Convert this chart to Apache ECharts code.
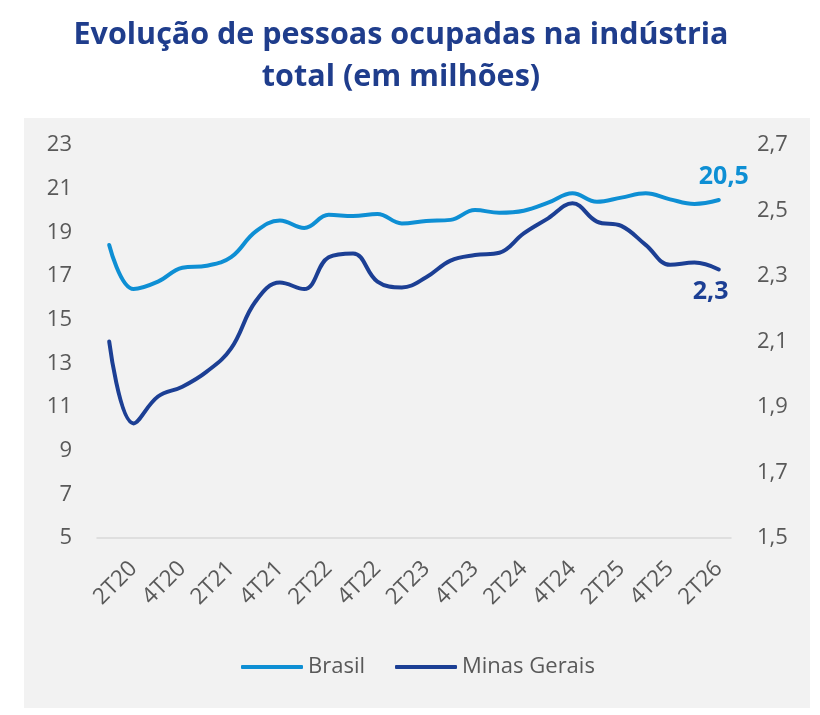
<!DOCTYPE html>
<html>
  <head>
    <meta charset="utf-8">
    <title>Evolução de pessoas ocupadas na indústria total</title>
    <script src="https://cdn.jsdelivr.net/npm/echarts@6/dist/echarts.min.js"></script>
    <style>
      html, body { margin: 0; padding: 0; background: #fff; }
      #chart1 { width: 820px; height: 715px; }
    </style>
  </head>
  <body>
    <div id="chart1"></div>
  </body>
  <script>
    // trimestres (eixo x)
    var trimestres = ['1T20','2T20','3T20','4T20','1T21','2T21','3T21','4T21','1T22','2T22','3T22','4T22',
                      '1T23','2T23','3T23','4T23','1T24','2T24','3T24','4T24','1T25','2T25','3T25','4T25',
                      '1T26','2T26'];

    // Brasil (eixo esquerdo, milhões)
    var brasil = [18.42, 16.40, 16.74, 17.38, 17.47, 17.86, 19.03, 19.54, 19.20, 19.80, 19.75, 19.84,
                  19.41, 19.52, 19.57, 20.02, 19.90, 19.99, 20.36, 20.79, 20.40, 20.59, 20.79, 20.51,
                  20.30, 20.48];

    // Minas Gerais (eixo direito, milhões)
    var minas = [2.100, 1.850, 1.932, 1.962, 2.008, 2.079, 2.222, 2.280, 2.260, 2.357, 2.369, 2.283,
                 2.265, 2.296, 2.347, 2.364, 2.371, 2.430, 2.476, 2.522, 2.466, 2.453, 2.395, 2.334,
                 2.341, 2.320];

    var corBrasil = '#0E8FD4';
    var corMinas = '#1C3F94';
    var cinza = '#595959';

    function virgula(v) {
      return v.toFixed(1).replace('.', ',');
    }

    var myChart = echarts.init(document.getElementById('chart1'));
    var option = {
      animation: false,
      backgroundColor: '#ffffff',
      textStyle: { fontFamily: 'Open Sans' },
      graphic: [
        {
          type: 'rect',
          z: -10,
          silent: true,
          shape: { x: 24, y: 118, width: 786, height: 590 },
          style: { fill: '#F2F2F2' }
        }
      ],
      title: {
        text: 'Evolução de pessoas ocupadas na indústria\ntotal (em milhões)',
        left: 396,
        top: 9,
        textAlign: 'center',
        textStyle: {
          fontFamily: 'Open Sans',
          fontSize: 30.5,
          fontWeight: 'bold',
          color: '#1F3D8C',
          lineHeight: 42
        }
      },
      legend: {
        left: 236,
        top: 651,
        icon: 'roundRect',
        itemWidth: 62,
        itemHeight: 4,
        itemGap: 30,
        data: ['Brasil', 'Minas Gerais'],
        textStyle: { fontFamily: 'Open Sans', fontSize: 22, color: cinza }
      },
      grid: {
        left: 97,
        right: 89,
        top: 145,
        bottom: 177
      },
      xAxis: {
        type: 'category',
        boundaryGap: true,
        data: trimestres,
        axisLine: { lineStyle: { color: '#D9D9D9', width: 1.5 } },
        axisTick: { show: false },
        axisLabel: {
          interval: function (index) { return index % 2 === 1; },
          rotate: 45,
          margin: 27,
          fontFamily: 'Open Sans',
          fontSize: 22.5,
          color: cinza
        }
      },
      yAxis: [
        {
          type: 'value',
          position: 'left',
          min: 5,
          max: 23,
          interval: 2,
          axisLine: { show: false },
          axisTick: { show: false },
          splitLine: { show: false },
          axisLabel: { margin: 25, fontFamily: 'Open Sans', fontSize: 22, color: cinza }
        },
        {
          type: 'value',
          position: 'right',
          min: 1.5,
          max: 2.7,
          interval: 0.2,
          axisLine: { show: false },
          axisTick: { show: false },
          splitLine: { show: false },
          axisLabel: {
            margin: 26,
            fontFamily: 'Open Sans',
            fontSize: 22,
            color: cinza,
            formatter: function (v) { return virgula(v); }
          }
        }
      ],
      series: [
        {
          name: 'Brasil',
          type: 'line',
          yAxisIndex: 0,
          data: brasil,
          smooth: 0.4,
          showSymbol: false,
          color: corBrasil,
          lineStyle: { width: 4, color: corBrasil, cap: 'round' },
          endLabel: {
            show: true,
            offset: [-28, -23],
            fontFamily: 'Open Sans',
            fontSize: 25,
            fontWeight: 'bold',
            color: corBrasil,
            formatter: function (p) { return virgula(p.value); }
          }
        },
        {
          name: 'Minas Gerais',
          type: 'line',
          yAxisIndex: 1,
          data: minas,
          smooth: 0.4,
          showSymbol: false,
          color: corMinas,
          lineStyle: { width: 4, color: corMinas, cap: 'round' },
          endLabel: {
            show: true,
            offset: [-34, 22],
            fontFamily: 'Open Sans',
            fontSize: 25,
            fontWeight: 'bold',
            color: corMinas,
            formatter: function (p) { return virgula(p.value); }
          }
        }
      ]
    };

    myChart.setOption(option);
  </script>
</html>
